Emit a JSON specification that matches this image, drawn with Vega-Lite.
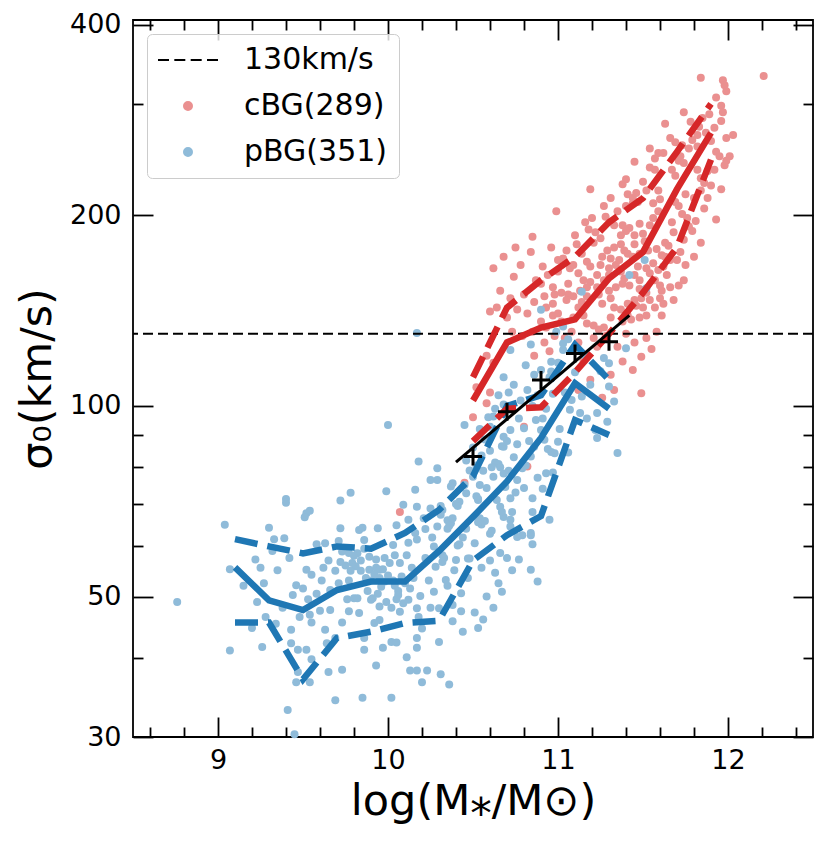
{
  "$schema": "https://vega.github.io/schema/vega-lite/v6.json",
  "width": 680,
  "height": 717,
  "autosize": {"type": "none"},
  "padding": {"left": 133, "top": 20, "right": 16, "bottom": 106},
  "background": "white",
  "config": {
    "view": {"stroke": "black", "strokeWidth": 1.8},
    "font": "DejaVu Sans",
    "axis": {
      "labelFont": "DejaVu Sans", "labelFontSize": 27, "labelColor": "black",
      "titleFont": "DejaVu Sans", "titleFontSize": 43, "titleFontWeight": "normal", "titleColor": "black",
      "tickColor": "black", "tickWidth": 1.8, "domain": false, "grid": false, "zindex": 1,
      "labelFlush": false, "labelOverlap": false
    },
    "legend": {
      "title": null, "orient": "top-left", "offset": 14, "padding": 11, "cornerRadius": 5,
      "strokeColor": "#cccccc", "fillColor": "rgba(255,255,255,0.8)",
      "labelFont": "DejaVu Sans", "labelFontSize": 30, "labelColor": "black",
      "labelOffset": 41, "symbolOffset": 15, "symbolSize": 64, "symbolStrokeWidth": 2, "rowPadding": 16
    }
  },
  "datasets": {
    "pts": [
      {"g":"c","x":12.21,"y":332},{"g":"c","x":11.84,"y":330},{"g":"c","x":11.97,"y":327},{"g":"c","x":11.98,"y":321},{"g":"c","x":11.99,"y":314},
      {"g":"c","x":11.93,"y":307},{"g":"c","x":11.96,"y":298},{"g":"c","x":11.97,"y":291},{"g":"c","x":11.74,"y":291},{"g":"c","x":11.96,"y":282},
      {"g":"c","x":11.63,"y":279},{"g":"c","x":11.83,"y":276},{"g":"c","x":11.82,"y":268},{"g":"c","x":11.79,"y":263},{"g":"c","x":11.82,"y":257},
      {"g":"c","x":11.69,"y":261},{"g":"c","x":11.73,"y":258},{"g":"c","x":11.77,"y":255},{"g":"c","x":11.93,"y":252},{"g":"c","x":11.95,"y":248},
      {"g":"c","x":12.01,"y":248},{"g":"c","x":11.99,"y":244},{"g":"c","x":11.59,"y":251},{"g":"c","x":11.62,"y":251},{"g":"c","x":11.57,"y":246},
      {"g":"c","x":11.72,"y":248},{"g":"c","x":11.45,"y":243},{"g":"c","x":11.54,"y":238},{"g":"c","x":11.57,"y":236},{"g":"c","x":11.71,"y":244},
      {"g":"c","x":11.74,"y":242},{"g":"c","x":11.67,"y":236},{"g":"c","x":11.69,"y":231},{"g":"c","x":11.82,"y":236},{"g":"c","x":11.84,"y":229},
      {"g":"c","x":11.88,"y":235},{"g":"c","x":11.86,"y":225},{"g":"c","x":11.75,"y":216},{"g":"c","x":11.80,"y":213},{"g":"c","x":11.84,"y":219},
      {"g":"c","x":11.59,"y":219},{"g":"c","x":11.60,"y":212},{"g":"c","x":11.38,"y":224},{"g":"c","x":11.40,"y":228},{"g":"c","x":11.41,"y":216},
      {"g":"c","x":11.44,"y":213},{"g":"c","x":11.46,"y":217},{"g":"c","x":11.52,"y":219},{"g":"c","x":11.19,"y":220},{"g":"c","x":11.31,"y":213},
      {"g":"c","x":11.40,"y":207},{"g":"c","x":11.44,"y":209},{"g":"c","x":11.56,"y":209},{"g":"c","x":11.59,"y":203},{"g":"c","x":11.69,"y":210},
      {"g":"c","x":11.71,"y":207},{"g":"c","x":11.73,"y":201},{"g":"c","x":11.76,"y":198},{"g":"c","x":11.77,"y":192},{"g":"c","x":11.90,"y":223},
      {"g":"c","x":10.99,"y":203},{"g":"c","x":11.20,"y":198},{"g":"c","x":11.28,"y":199},{"g":"c","x":11.33,"y":193},{"g":"c","x":11.38,"y":193},
      {"g":"c","x":11.42,"y":191},{"g":"c","x":11.48,"y":194},{"g":"c","x":11.50,"y":187},{"g":"c","x":11.56,"y":198},{"g":"c","x":11.54,"y":193},
      {"g":"c","x":11.67,"y":195},{"g":"c","x":11.68,"y":188},{"g":"c","x":11.22,"y":188},{"g":"c","x":11.21,"y":181},{"g":"c","x":11.25,"y":184},
      {"g":"c","x":11.37,"y":186},{"g":"c","x":11.40,"y":189},{"g":"c","x":11.45,"y":186},{"g":"c","x":11.45,"y":180},{"g":"c","x":11.37,"y":180},
      {"g":"c","x":11.39,"y":176},{"g":"c","x":11.63,"y":181},{"g":"c","x":11.65,"y":179},{"g":"c","x":11.11,"y":180},{"g":"c","x":11.33,"y":178},
      {"g":"c","x":11.31,"y":171},{"g":"c","x":11.34,"y":167},{"g":"c","x":11.41,"y":174},{"g":"c","x":11.44,"y":172},{"g":"c","x":11.48,"y":174},
      {"g":"c","x":11.58,"y":177},{"g":"c","x":11.61,"y":173},{"g":"c","x":11.63,"y":172},{"g":"c","x":11.66,"y":170},{"g":"c","x":11.17,"y":169},
      {"g":"c","x":11.19,"y":166},{"g":"c","x":11.25,"y":167},{"g":"c","x":11.09,"y":167},{"g":"c","x":11.07,"y":165},{"g":"c","x":11.00,"y":163},
      {"g":"c","x":10.91,"y":166},{"g":"c","x":10.94,"y":161},{"g":"c","x":10.90,"y":156},{"g":"c","x":11.12,"y":162},{"g":"c","x":11.15,"y":158},
      {"g":"c","x":11.19,"y":157},{"g":"c","x":11.23,"y":161},{"g":"c","x":11.27,"y":158},{"g":"c","x":11.30,"y":161},{"g":"c","x":11.37,"y":163},
      {"g":"c","x":11.39,"y":159},{"g":"c","x":11.45,"y":161},{"g":"c","x":11.48,"y":158},{"g":"c","x":11.52,"y":165},{"g":"c","x":11.54,"y":162},
      {"g":"c","x":11.57,"y":158},{"g":"c","x":11.64,"y":161},{"g":"c","x":11.60,"y":155},{"g":"c","x":11.61,"y":152},{"g":"c","x":11.74,"y":158},
      {"g":"c","x":11.75,"y":167},{"g":"c","x":10.97,"y":154},{"g":"c","x":10.98,"y":150},{"g":"c","x":11.06,"y":150},{"g":"c","x":11.09,"y":149},
      {"g":"c","x":11.13,"y":152},{"g":"c","x":11.17,"y":154},{"g":"c","x":11.23,"y":154},{"g":"c","x":11.30,"y":152},{"g":"c","x":11.34,"y":154},
      {"g":"c","x":11.38,"y":156},{"g":"c","x":11.42,"y":155},{"g":"c","x":11.48,"y":153},{"g":"c","x":11.49,"y":148},{"g":"c","x":11.52,"y":151},
      {"g":"c","x":11.60,"y":148},{"g":"c","x":11.66,"y":154},{"g":"c","x":10.92,"y":149},{"g":"c","x":10.97,"y":145},{"g":"c","x":11.02,"y":151},
      {"g":"c","x":11.05,"y":147},{"g":"c","x":11.14,"y":146},{"g":"c","x":11.17,"y":149},{"g":"c","x":11.24,"y":150},{"g":"c","x":11.26,"y":145},
      {"g":"c","x":11.31,"y":148},{"g":"c","x":11.33,"y":143},{"g":"c","x":11.37,"y":142},{"g":"c","x":11.41,"y":145},{"g":"c","x":11.46,"y":144},
      {"g":"c","x":11.50,"y":143},{"g":"c","x":11.54,"y":147},{"g":"c","x":10.97,"y":139},{"g":"c","x":11.00,"y":140},{"g":"c","x":11.02,"y":136},
      {"g":"c","x":11.09,"y":138},{"g":"c","x":11.15,"y":139},{"g":"c","x":11.17,"y":135},{"g":"c","x":11.21,"y":134},{"g":"c","x":11.24,"y":132},
      {"g":"c","x":11.27,"y":133},{"g":"c","x":11.31,"y":138},{"g":"c","x":11.38,"y":136},{"g":"c","x":11.43,"y":137},{"g":"c","x":11.48,"y":138},
      {"g":"c","x":11.52,"y":139},{"g":"c","x":11.61,"y":139},{"g":"c","x":10.90,"y":136},{"g":"c","x":10.93,"y":133},
      {"g":"c","x":10.62,"y":165},{"g":"c","x":10.68,"y":172},{"g":"c","x":10.74,"y":160},{"g":"c","x":10.78,"y":167},{"g":"c","x":10.84,"y":175},
      {"g":"c","x":10.87,"y":158},{"g":"c","x":10.66,"y":152},{"g":"c","x":10.72,"y":148},{"g":"c","x":10.80,"y":150},{"g":"c","x":10.86,"y":146},
      {"g":"c","x":10.60,"y":141},{"g":"c","x":10.64,"y":143},{"g":"c","x":10.70,"y":138},{"g":"c","x":10.76,"y":142},{"g":"c","x":10.82,"y":140},
      {"g":"c","x":10.85,"y":131},{"g":"c","x":10.79,"y":129},{"g":"c","x":10.73,"y":131},{"g":"c","x":10.58,"y":120},{"g":"c","x":10.62,"y":117},
      {"g":"c","x":10.92,"y":126},{"g":"c","x":10.95,"y":122},{"g":"c","x":10.86,"y":120},{"g":"c","x":10.98,"y":129},{"g":"c","x":11.19,"y":110},
      {"g":"c","x":11.38,"y":117.5},{"g":"c","x":11.31,"y":112},{"g":"c","x":11.21,"y":128},{"g":"c","x":11.49,"y":119.6},{"g":"c","x":11.49,"y":104.7},
      {"g":"c","x":11.04,"y":128},{"g":"c","x":11.08,"y":131},{"g":"c","x":11.12,"y":126},{"g":"c","x":11.15,"y":118},{"g":"c","x":11.23,"y":124},
      {"g":"c","x":11.28,"y":129},{"g":"c","x":11.35,"y":124},{"g":"c","x":11.40,"y":130},{"g":"c","x":11.45,"y":126},{"g":"c","x":11.52,"y":128},
      {"g":"c","x":11.55,"y":123},{"g":"c","x":11.58,"y":131},{"g":"c","x":11.44,"y":114},{"g":"c","x":11.33,"y":106},{"g":"c","x":11.26,"y":103},
      {"g":"c","x":11.12,"y":106},{"g":"c","x":10.80,"y":92.7},{"g":"c","x":10.82,"y":80.2},{"g":"c","x":10.58,"y":101},{"g":"c","x":10.07,"y":68},
      {"g":"c","x":10.45,"y":75.6},{"g":"c","x":10.93,"y":143},{"g":"c","x":10.52,"y":107},{"g":"c","x":10.60,"y":105},{"g":"c","x":10.50,"y":96},
      {"g":"c","x":11.26,"y":172},{"g":"c","x":11.29,"y":176},{"g":"c","x":11.36,"y":170},{"g":"c","x":11.47,"y":166},{"g":"c","x":11.51,"y":182},
      {"g":"c","x":11.53,"y":176},{"g":"c","x":11.56,"y":168},{"g":"c","x":11.59,"y":164},{"g":"c","x":11.62,"y":166},{"g":"c","x":11.70,"y":170},
      {"g":"c","x":11.72,"y":175},{"g":"c","x":11.74,"y":183},{"g":"c","x":11.79,"y":189},{"g":"c","x":11.81,"y":196},{"g":"c","x":11.86,"y":205},
      {"g":"c","x":11.88,"y":213},{"g":"c","x":11.92,"y":236},{"g":"c","x":11.90,"y":262},{"g":"c","x":11.87,"y":270},{"g":"c","x":11.85,"y":285},
      {"g":"c","x":11.89,"y":289},{"g":"c","x":11.78,"y":281},{"g":"c","x":11.66,"y":265},{"g":"c","x":11.54,"y":255},{"g":"c","x":11.50,"y":226},
      {"g":"c","x":11.47,"y":210},{"g":"c","x":11.35,"y":203},{"g":"c","x":11.27,"y":207},{"g":"c","x":11.16,"y":195},{"g":"c","x":11.10,"y":186},
      {"g":"c","x":11.05,"y":176},{"g":"c","x":11.03,"y":171},{"g":"c","x":11.14,"y":174},{"g":"c","x":11.30,"y":165},{"g":"c","x":11.45,"y":147},
      {"g":"c","x":11.41,"y":139},{"g":"c","x":11.57,"y":143},{"g":"c","x":11.62,"y":145},{"g":"c","x":11.68,"y":147},{"g":"c","x":11.71,"y":155},
      {"g":"c","x":11.80,"y":172},{"g":"c","x":11.84,"y":181},{"g":"c","x":11.93,"y":197},{"g":"c","x":11.96,"y":220},{"g":"c","x":11.98,"y":240},
      {"g":"c","x":12.03,"y":268},{"g":"c","x":11.92,"y":275},{"g":"c","x":11.99,"y":265},{"g":"c","x":11.12,"y":143},{"g":"c","x":11.06,"y":156},
      {"g":"c","x":11.00,"y":170},{"g":"c","x":10.96,"y":178},{"g":"c","x":10.85,"y":185},{"g":"c","x":10.75,"y":178},{"g":"c","x":11.18,"y":190},

      {"g":"p","x":8.76,"y":49},{"g":"p","x":9.04,"y":64.9},{"g":"p","x":9.07,"y":55.2},{"g":"p","x":9.07,"y":41.1},{"g":"p","x":9.22,"y":57.2},
      {"g":"p","x":9.25,"y":55.5},{"g":"p","x":9.23,"y":49},{"g":"p","x":9.28,"y":46.4},{"g":"p","x":9.20,"y":44.6},{"g":"p","x":9.26,"y":41.6},
      {"g":"p","x":9.30,"y":64.2},{"g":"p","x":9.33,"y":61.6},{"g":"p","x":9.32,"y":59},{"g":"p","x":9.39,"y":61.8},{"g":"p","x":9.34,"y":45.3},
      {"g":"p","x":9.40,"y":71.3},{"g":"p","x":9.40,"y":70.3},{"g":"p","x":9.43,"y":44.3},{"g":"p","x":9.43,"y":42.2},{"g":"p","x":9.46,"y":52.1},
      {"g":"p","x":9.44,"y":50.3},{"g":"p","x":9.48,"y":46.4},{"g":"p","x":9.47,"y":41.2},{"g":"p","x":9.46,"y":36.6},{"g":"p","x":9.54,"y":36.6},
      {"g":"p","x":9.47,"y":38.0},{"g":"p","x":9.41,"y":33.1},{"g":"p","x":9.45,"y":30.3},{"g":"p","x":9.52,"y":67.7},{"g":"p","x":9.51,"y":66.7},
      {"g":"p","x":9.54,"y":68.3},{"g":"p","x":9.52,"y":55.1},{"g":"p","x":9.55,"y":54.1},{"g":"p","x":9.50,"y":51.5},{"g":"p","x":9.53,"y":49.5},
      {"g":"p","x":9.54,"y":46.8},{"g":"p","x":9.55,"y":45.5},{"g":"p","x":9.52,"y":41.2},{"g":"p","x":9.55,"y":39.8},{"g":"p","x":9.58,"y":60.5},
      {"g":"p","x":9.63,"y":60.7},{"g":"p","x":9.65,"y":57.0},{"g":"p","x":9.66,"y":51.2},{"g":"p","x":9.66,"y":47.6},{"g":"p","x":9.63,"y":44.3},
      {"g":"p","x":9.64,"y":42.2},{"g":"p","x":9.69,"y":43.0},{"g":"p","x":9.65,"y":38.0},{"g":"p","x":9.69,"y":34.3},{"g":"p","x":9.72,"y":70.9},
      {"g":"p","x":9.78,"y":72.9},{"g":"p","x":9.72,"y":64.1},{"g":"p","x":9.71,"y":61.2},{"g":"p","x":9.73,"y":58.9},{"g":"p","x":9.69,"y":54.9},
      {"g":"p","x":9.77,"y":58.6},{"g":"p","x":9.79,"y":56.5},{"g":"p","x":9.81,"y":55.8},{"g":"p","x":9.78,"y":54.9},{"g":"p","x":9.84,"y":54.9},
      {"g":"p","x":9.76,"y":49.5},{"g":"p","x":9.80,"y":49.7},{"g":"p","x":9.82,"y":49.7},{"g":"p","x":9.77,"y":47.4},{"g":"p","x":9.83,"y":47.1},
      {"g":"p","x":9.73,"y":45.5},{"g":"p","x":9.86,"y":43.0},{"g":"p","x":9.86,"y":41.2},{"g":"p","x":9.73,"y":38.3},{"g":"p","x":9.83,"y":63.7},
      {"g":"p","x":9.85,"y":64.2},{"g":"p","x":9.86,"y":61.4},{"g":"p","x":9.86,"y":59.5},{"g":"p","x":9.82,"y":58.5},{"g":"p","x":9.89,"y":57.8},
      {"g":"p","x":9.89,"y":55.1},{"g":"p","x":9.94,"y":64.1},{"g":"p","x":9.93,"y":57.2},{"g":"p","x":9.93,"y":55.5},{"g":"p","x":9.95,"y":55.1},
      {"g":"p","x":9.97,"y":55.2},{"g":"p","x":9.90,"y":53.0},{"g":"p","x":9.95,"y":53.5},{"g":"p","x":9.98,"y":52.8},{"g":"p","x":10.04,"y":52.0},
      {"g":"p","x":10.06,"y":51.0},{"g":"p","x":9.99,"y":49.0},{"g":"p","x":10.02,"y":48.0},{"g":"p","x":9.99,"y":73.3},{"g":"p","x":9.91,"y":49.7},
      {"g":"p","x":9.95,"y":48.2},{"g":"p","x":9.90,"y":49.4},{"g":"p","x":9.92,"y":45.4},{"g":"p","x":9.95,"y":45.9},{"g":"p","x":9.97,"y":41.5},
      {"g":"p","x":9.93,"y":38.9},{"g":"p","x":9.85,"y":34.6},{"g":"p","x":10.02,"y":34.6},{"g":"p","x":10.05,"y":64.8},{"g":"p","x":10.03,"y":60.3},
      {"g":"p","x":10.04,"y":58.1},{"g":"p","x":10.07,"y":56.5},{"g":"p","x":10.11,"y":58.1},{"g":"p","x":10.06,"y":50.3},{"g":"p","x":10.12,"y":49.4},
      {"g":"p","x":10.02,"y":42.4},{"g":"p","x":10.05,"y":42.3},{"g":"p","x":10.07,"y":47.3},{"g":"p","x":10.11,"y":40.1},{"g":"p","x":10.13,"y":38.2},
      {"g":"p","x":10.17,"y":38.2},{"g":"p","x":10.20,"y":36.6},{"g":"p","x":10.23,"y":38.2},{"g":"p","x":10.31,"y":37.7},{"g":"p","x":10.36,"y":36.3},
      {"g":"p","x":10.09,"y":69.8},{"g":"p","x":10.16,"y":73.7},{"g":"p","x":10.17,"y":69.3},{"g":"p","x":10.12,"y":66.1},{"g":"p","x":10.16,"y":63.0},
      {"g":"p","x":10.17,"y":61.5},{"g":"p","x":10.12,"y":60.8},{"g":"p","x":10.14,"y":55.5},{"g":"p","x":10.19,"y":50.1},{"g":"p","x":10.17,"y":47.9},
      {"g":"p","x":10.18,"y":46.4},{"g":"p","x":10.17,"y":43.0},{"g":"p","x":10.17,"y":41.5},{"g":"p","x":10.25,"y":76.4},{"g":"p","x":10.25,"y":68.9},
      {"g":"p","x":10.22,"y":63.9},{"g":"p","x":10.27,"y":60.0},{"g":"p","x":10.32,"y":58.1},{"g":"p","x":10.28,"y":55.7},{"g":"p","x":10.27,"y":50.9},
      {"g":"p","x":10.30,"y":47.9},{"g":"p","x":10.30,"y":42.4},{"g":"p","x":10.38,"y":48.5},{"g":"p","x":10.38,"y":45.7},{"g":"p","x":10.43,"y":50.6},
      {"g":"p","x":10.47,"y":57.4},{"g":"p","x":10.40,"y":57.1},{"g":"p","x":10.37,"y":65.3},{"g":"p","x":10.35,"y":66.0},{"g":"p","x":10.38,"y":66.5},
      {"g":"p","x":10.32,"y":68.5},{"g":"p","x":10.31,"y":69.5},{"g":"p","x":10.37,"y":74.6},{"g":"p","x":10.45,"y":75.0},{"g":"p","x":10.00,"y":93.3},
      {"g":"p","x":10.18,"y":81.7},{"g":"p","x":10.29,"y":79.7},{"g":"p","x":10.29,"y":76.4},{"g":"p","x":10.17,"y":130.4},{"g":"p","x":10.45,"y":93.3},
      {"g":"p","x":10.40,"y":70.0},{"g":"p","x":10.42,"y":70.6},{"g":"p","x":10.46,"y":72.8},{"g":"p","x":10.48,"y":79.1},{"g":"p","x":10.54,"y":75.0},
      {"g":"p","x":10.53,"y":71.0},{"g":"p","x":10.58,"y":74.2},{"g":"p","x":10.63,"y":81.4},{"g":"p","x":10.62,"y":77.3},{"g":"p","x":10.68,"y":78.2},
      {"g":"p","x":10.64,"y":71.0},{"g":"p","x":10.72,"y":71.5},{"g":"p","x":10.76,"y":76.4},{"g":"p","x":10.80,"y":74.2},{"g":"p","x":10.68,"y":66.8},
      {"g":"p","x":10.73,"y":68.0},{"g":"p","x":10.79,"y":79.7},{"g":"p","x":10.84,"y":83.2},{"g":"p","x":10.86,"y":86.2},{"g":"p","x":10.85,"y":71.5},
      {"g":"p","x":10.85,"y":68.0},{"g":"p","x":10.84,"y":63.0},{"g":"p","x":10.95,"y":66.1},{"g":"p","x":10.72,"y":91.6},{"g":"p","x":10.68,"y":89.4},
      {"g":"p","x":10.68,"y":86.2},{"g":"p","x":10.60,"y":92.7},{"g":"p","x":10.62,"y":96.2},{"g":"p","x":10.68,"y":111.0},{"g":"p","x":10.72,"y":122.6},
      {"g":"p","x":10.80,"y":92.2},{"g":"p","x":10.87,"y":95.0},{"g":"p","x":10.91,"y":95.5},{"g":"p","x":10.90,"y":91.6},{"g":"p","x":10.92,"y":88.4},
      {"g":"p","x":10.98,"y":84.2},{"g":"p","x":11.00,"y":87.8},{"g":"p","x":10.96,"y":113.3},{"g":"p","x":10.96,"y":117.4},{"g":"p","x":11.00,"y":117.0},
      {"g":"p","x":11.03,"y":122.6},{"g":"p","x":11.08,"y":102.2},{"g":"p","x":11.07,"y":98.6},{"g":"p","x":11.13,"y":97.5},{"g":"p","x":11.23,"y":97.5},
      {"g":"p","x":11.22,"y":91.6},{"g":"p","x":11.23,"y":89.0},{"g":"p","x":11.29,"y":94.4},{"g":"p","x":11.30,"y":116.8},{"g":"p","x":11.30,"y":107.3},
      {"g":"p","x":11.33,"y":101.6},{"g":"p","x":11.35,"y":84.3},{"g":"p","x":11.40,"y":123.4},{"g":"p","x":11.03,"y":125.5},{"g":"p","x":10.90,"y":141.9},
      {"g":"p","x":11.06,"y":84.4},{"g":"p","x":10.96,"y":84.6},{"g":"p","x":10.94,"y":85.5},{"g":"p","x":10.93,"y":78.3},{"g":"p","x":10.72,"y":66.1},
      {"g":"p","x":10.72,"y":64.5},{"g":"p","x":10.84,"y":62.5},{"g":"p","x":10.79,"y":62.5},{"g":"p","x":10.85,"y":60.5},{"g":"p","x":10.76,"y":62.1},
      {"g":"p","x":10.77,"y":57.2},{"g":"p","x":10.84,"y":55.1},{"g":"p","x":10.88,"y":52.8},{"g":"p","x":10.66,"y":58.6},{"g":"p","x":10.65,"y":52.5},
      {"g":"p","x":10.67,"y":50.9},{"g":"p","x":10.55,"y":55.5},{"g":"p","x":10.48,"y":57.4},{"g":"p","x":10.51,"y":60.7},{"g":"p","x":10.60,"y":62.8},
      {"g":"p","x":10.61,"y":63.5},{"g":"p","x":10.57,"y":65.8},{"g":"p","x":10.55,"y":65.0},{"g":"p","x":10.66,"y":69.3},{"g":"p","x":10.67,"y":68.0},
      {"g":"p","x":10.65,"y":81.0},{"g":"p","x":10.66,"y":80.0},{"g":"p","x":10.50,"y":77.3},{"g":"p","x":10.53,"y":71.3},{"g":"p","x":10.52,"y":72.0},
      {"g":"p","x":10.54,"y":66.5},{"g":"p","x":10.53,"y":65.5},{"g":"p","x":10.41,"y":69.5},{"g":"p","x":10.36,"y":64.7},{"g":"p","x":10.35,"y":64.0},
      {"g":"p","x":10.41,"y":60.2},{"g":"p","x":10.42,"y":60.5},{"g":"p","x":10.32,"y":56.7},{"g":"p","x":10.33,"y":57.5},{"g":"p","x":10.34,"y":53.1},
      {"g":"p","x":10.38,"y":75.5},{"g":"p","x":10.31,"y":67.3},{"g":"p","x":10.43,"y":47.4},{"g":"p","x":10.51,"y":47.2},{"g":"p","x":10.53,"y":44.6},
      {"g":"p","x":10.67,"y":86.4},{"g":"p","x":10.70,"y":88.0},{"g":"p","x":10.76,"y":87.0},{"g":"p","x":10.83,"y":88.0},
      {"g":"p","x":9.87,"y":53.5},{"g":"p","x":9.92,"y":54.2},{"g":"p","x":9.96,"y":51.8},{"g":"p","x":10.00,"y":54.0},{"g":"p","x":10.03,"y":53.0},
      {"g":"p","x":10.08,"y":53.8},{"g":"p","x":10.10,"y":52.5},{"g":"p","x":10.01,"y":56.5},{"g":"p","x":9.98,"y":57.5},{"g":"p","x":9.88,"y":51.0},
      {"g":"p","x":9.94,"y":50.5},{"g":"p","x":10.05,"y":49.5},{"g":"p","x":10.09,"y":48.8},{"g":"p","x":10.13,"y":51.5},{"g":"p","x":10.15,"y":53.5},
      {"g":"p","x":9.75,"y":56.0},{"g":"p","x":9.80,"y":58.0},{"g":"p","x":9.72,"y":56.7},{"g":"p","x":9.84,"y":57.0},{"g":"p","x":9.77,"y":53.0},
      {"g":"p","x":9.71,"y":52.5},{"g":"p","x":9.61,"y":53.0},{"g":"p","x":9.58,"y":50.5},{"g":"p","x":9.60,"y":47.5},{"g":"p","x":9.62,"y":55.5},
      {"g":"p","x":10.22,"y":57.5},{"g":"p","x":10.24,"y":53.0},{"g":"p","x":10.26,"y":62.0},{"g":"p","x":10.21,"y":66.5},{"g":"p","x":10.29,"y":64.5},
      {"g":"p","x":10.44,"y":62.0},{"g":"p","x":10.46,"y":64.0},{"g":"p","x":10.25,"y":48.0},{"g":"p","x":10.20,"y":44.5},{"g":"p","x":10.35,"y":52.0},
      {"g":"p","x":10.39,"y":55.0},{"g":"p","x":10.46,"y":82.0},{"g":"p","x":10.50,"y":86.0},{"g":"p","x":10.52,"y":80.5},{"g":"p","x":10.55,"y":83.5},
      {"g":"p","x":10.57,"y":88.5},{"g":"p","x":10.60,"y":85.0},{"g":"p","x":10.61,"y":80.0},{"g":"p","x":10.56,"y":79.0},{"g":"p","x":10.59,"y":96.0},
      {"g":"p","x":10.54,"y":92.0},{"g":"p","x":10.63,"y":99.0},{"g":"p","x":10.65,"y":104.0},{"g":"p","x":10.68,"y":100.5},{"g":"p","x":10.71,"y":105.0},
      {"g":"p","x":10.74,"y":108.0},{"g":"p","x":10.78,"y":102.0},{"g":"p","x":10.82,"y":106.0},{"g":"p","x":10.85,"y":100.0},{"g":"p","x":10.88,"y":104.0},
      {"g":"p","x":10.93,"y":99.0},{"g":"p","x":10.97,"y":104.5},{"g":"p","x":10.95,"y":111.0},{"g":"p","x":10.90,"y":114.0},{"g":"p","x":10.86,"y":112.0},
      {"g":"p","x":10.81,"y":116.0},{"g":"p","x":10.77,"y":95.5},{"g":"p","x":10.74,"y":83.0},{"g":"p","x":10.71,"y":79.0},{"g":"p","x":10.69,"y":74.5},
      {"g":"p","x":10.75,"y":73.0},{"g":"p","x":10.81,"y":80.5},{"g":"p","x":10.88,"y":77.0},{"g":"p","x":10.91,"y":74.0},{"g":"p","x":10.97,"y":78.5},
      {"g":"p","x":11.01,"y":92.0},{"g":"p","x":11.04,"y":105.0},{"g":"p","x":11.10,"y":113.0},{"g":"p","x":11.14,"y":103.5},{"g":"p","x":11.17,"y":95.5},
      {"g":"p","x":11.19,"y":108.0},{"g":"p","x":11.25,"y":113.5},{"g":"p","x":11.27,"y":119.0},{"g":"p","x":11.16,"y":120.0},{"g":"p","x":11.06,"y":127.5},
      {"g":"p","x":10.99,"y":131.0},{"g":"p","x":10.84,"y":125.0},{"g":"p","x":10.60,"y":57.0},{"g":"p","x":10.63,"y":54.5},{"g":"p","x":10.70,"y":57.5},
      {"g":"p","x":10.73,"y":55.0},{"g":"p","x":10.58,"y":50.0},{"g":"p","x":10.47,"y":53.5},{"g":"p","x":10.44,"y":44.0},{"g":"p","x":10.56,"y":46.0},
      {"g":"p","x":10.62,"y":48.0},{"g":"p","x":9.15,"y":52.0},{"g":"p","x":9.27,"y":52.5},{"g":"p","x":9.35,"y":55.0},{"g":"p","x":9.38,"y":48.0},
      {"g":"p","x":9.42,"y":57.5},{"g":"p","x":11.51,"y":170},{"g":"p","x":11.42,"y":161},{"g":"p","x":11.14,"y":151.5},{"g":"p","x":11.52,"y":153.4},
      {"g":"p","x":11.03,"y":133.5}
    ],
    "bmed": [{"x":9.1,"y":55.6},{"x":9.3,"y":49.3},{"x":9.5,"y":47.6},{"x":9.7,"y":51.2},{"x":9.9,"y":52.8},{"x":10.1,"y":52.8},{"x":10.3,"y":59},{"x":10.5,"y":66.8},{"x":10.7,"y":76},{"x":10.9,"y":89},{"x":11.1,"y":108.6},{"x":11.3,"y":99}],
    "bup": [{"x":9.1,"y":61.6},{"x":9.3,"y":60},{"x":9.5,"y":58.5},{"x":9.7,"y":60},{"x":9.9,"y":59.5},{"x":10.1,"y":63},{"x":10.3,"y":68.5},{"x":10.5,"y":77.5},{"x":10.7,"y":100},{"x":10.9,"y":104},{"x":11.1,"y":125},{"x":11.3,"y":110}],
    "blo": [{"x":9.1,"y":45.5},{"x":9.3,"y":45.5},{"x":9.5,"y":37},{"x":9.7,"y":43},{"x":9.9,"y":44},{"x":10.1,"y":45.4},{"x":10.3,"y":45.8},{"x":10.5,"y":57},{"x":10.7,"y":62.5},{"x":10.9,"y":67},{"x":11.1,"y":95},{"x":11.3,"y":90}],
    "rmed": [{"x":10.5,"y":102},{"x":10.7,"y":126},{"x":10.9,"y":133},{"x":11.1,"y":137},{"x":11.3,"y":159},{"x":11.5,"y":175},{"x":11.7,"y":220},{"x":11.9,"y":270}],
    "rup": [{"x":10.5,"y":111},{"x":10.7,"y":143},{"x":10.9,"y":158},{"x":11.1,"y":172},{"x":11.3,"y":195},{"x":11.5,"y":213},{"x":11.7,"y":252},{"x":11.9,"y":300}],
    "rlo": [{"x":10.5,"y":88},{"x":10.7,"y":99},{"x":10.9,"y":99.5},{"x":11.1,"y":113},{"x":11.3,"y":130},{"x":11.5,"y":151},{"x":11.7,"y":178},{"x":11.9,"y":245}],
    "fit": [{"x":10.4,"y":81.5},{"x":11.42,"y":139}],
    "cross": [{"x":10.5,"y":83.2},{"x":10.7,"y":97.9},{"x":10.9,"y":109.9},{"x":11.1,"y":121},{"x":11.3,"y":126.3}]
  },
  "resolve": {"axis": {"x": "independent", "y": "independent"}},
  "layer": [
    {
      "data": {"name": "pts"},
      "mark": {"type": "point", "filled": true, "size": 64, "opacity": 1, "strokeWidth": 0},
      "encoding": {
        "x": {"field": "x", "type": "quantitative", "scale": {"domain": [8.5, 12.5], "nice": false, "zero": false},
              "axis": {"orient": "bottom", "values": [9, 10, 11, 12], "tickSize": -20, "labelPadding": 30, "title": "log(M⁎/M⊙)", "titlePadding": 7}},
        "y": {"field": "y", "type": "quantitative", "scale": {"type": "log", "domain": [30, 407], "nice": false},
              "axis": {"orient": "left", "values": [30, 50, 100, 200, 400], "tickSize": -20, "labelPadding": 32, "labelExpr": "format(datum.value, 'd')", "title": "σ₀(km/s)", "titlePadding": 10}},
        "color": {
          "field": "g", "type": "nominal",
          "scale": {"domain": ["h", "c", "p"], "range": ["black", "#ea9090", "#8fbbd9"]},
          "legend": {"labelExpr": "datum.value === 'h' ? '130km/s' : datum.value === 'c' ? 'cBG(289)' : 'pBG(351)'"}
        },
        "stroke": {
          "field": "g", "type": "nominal",
          "scale": {"domain": ["h", "c", "p"], "range": ["black", "#ea9090", "#8fbbd9"]},
          "legend": {"labelExpr": "datum.value === 'h' ? '130km/s' : datum.value === 'c' ? 'cBG(289)' : 'pBG(351)'"}
        },
        "shape": {
          "field": "g", "type": "nominal",
          "scale": {"domain": ["h", "c", "p"], "range": ["M-7.5,0H-4.75M-3.42,0H-0.67M0.67,0H3.42M4.75,0H7.5", "circle", "circle"]},
          "legend": {"labelExpr": "datum.value === 'h' ? '130km/s' : datum.value === 'c' ? 'cBG(289)' : 'pBG(351)'"}
        }
      }
    },
    {
      "data": {"values": [{"y": 130}]},
      "mark": {"type": "rule", "color": "black", "strokeWidth": 2, "strokeDash": [10, 5]},
      "encoding": {
        "y": {"field": "y", "type": "quantitative", "scale": {"type": "log", "domain": [30, 407], "nice": false}, "axis": null}
      }
    },
    {
      "data": {"name": "bmed"},
      "mark": {"type": "line", "color": "#1f77b4", "strokeWidth": 6.5},
      "encoding": {
        "x": {"field": "x", "type": "quantitative", "scale": {"domain": [8.5, 12.5], "nice": false, "zero": false},
              "axis": {"orient": "bottom", "values": [8.6, 8.8, 9.2, 9.4, 9.6, 9.8, 10.2, 10.4, 10.6, 10.8, 11.2, 11.4, 11.6, 11.8, 12.2, 12.4], "tickSize": -10, "labels": false, "title": null}},
        "y": {"field": "y", "type": "quantitative", "scale": {"type": "log", "domain": [30, 407], "nice": false},
              "axis": {"orient": "left", "values": [40, 60, 70, 80, 90, 300], "tickSize": -10, "labels": false, "title": null}}
      }
    },
    {
      "data": {"name": "bup"},
      "mark": {"type": "line", "color": "#1f77b4", "strokeWidth": 6.5, "strokeDash": [23, 10]},
      "encoding": {
        "x": {"field": "x", "type": "quantitative", "scale": {"domain": [8.5, 12.5], "nice": false, "zero": false},
              "axis": {"orient": "top", "values": [9, 10, 11, 12], "tickSize": -20, "labels": false, "title": null}},
        "y": {"field": "y", "type": "quantitative", "scale": {"type": "log", "domain": [30, 407], "nice": false},
              "axis": {"orient": "right", "values": [30, 50, 100, 200, 400], "tickSize": -20, "labels": false, "title": null}}
      }
    },
    {
      "data": {"name": "blo"},
      "mark": {"type": "line", "color": "#1f77b4", "strokeWidth": 6.5, "strokeDash": [23, 10]},
      "encoding": {
        "x": {"field": "x", "type": "quantitative", "scale": {"domain": [8.5, 12.5], "nice": false, "zero": false},
              "axis": {"orient": "top", "values": [8.6, 8.8, 9.2, 9.4, 9.6, 9.8, 10.2, 10.4, 10.6, 10.8, 11.2, 11.4, 11.6, 11.8, 12.2, 12.4], "tickSize": -10, "labels": false, "title": null}},
        "y": {"field": "y", "type": "quantitative", "scale": {"type": "log", "domain": [30, 407], "nice": false},
              "axis": {"orient": "right", "values": [40, 60, 70, 80, 90, 300], "tickSize": -10, "labels": false, "title": null}}
      }
    },
    {
      "data": {"name": "rmed"},
      "mark": {"type": "line", "color": "#d62728", "strokeWidth": 6.5},
      "encoding": {
        "x": {"field": "x", "type": "quantitative", "scale": {"domain": [8.5, 12.5], "nice": false, "zero": false}, "axis": null},
        "y": {"field": "y", "type": "quantitative", "scale": {"type": "log", "domain": [30, 407], "nice": false}, "axis": null}
      }
    },
    {
      "data": {"name": "rup"},
      "mark": {"type": "line", "color": "#d62728", "strokeWidth": 6.5, "strokeDash": [23, 10]},
      "encoding": {
        "x": {"field": "x", "type": "quantitative", "scale": {"domain": [8.5, 12.5], "nice": false, "zero": false}, "axis": null},
        "y": {"field": "y", "type": "quantitative", "scale": {"type": "log", "domain": [30, 407], "nice": false}, "axis": null}
      }
    },
    {
      "data": {"name": "rlo"},
      "mark": {"type": "line", "color": "#d62728", "strokeWidth": 6.5, "strokeDash": [23, 10]},
      "encoding": {
        "x": {"field": "x", "type": "quantitative", "scale": {"domain": [8.5, 12.5], "nice": false, "zero": false}, "axis": null},
        "y": {"field": "y", "type": "quantitative", "scale": {"type": "log", "domain": [30, 407], "nice": false}, "axis": null}
      }
    },
    {
      "data": {"name": "fit"},
      "mark": {"type": "line", "color": "black", "strokeWidth": 3},
      "encoding": {
        "x": {"field": "x", "type": "quantitative", "scale": {"domain": [8.5, 12.5], "nice": false, "zero": false}, "axis": null},
        "y": {"field": "y", "type": "quantitative", "scale": {"type": "log", "domain": [30, 407], "nice": false}, "axis": null}
      }
    },
    {
      "data": {"name": "cross"},
      "mark": {"type": "point", "shape": "M-1,0H1M0,-1V1", "size": 324, "filled": false, "color": "black", "strokeWidth": 3, "opacity": 1},
      "encoding": {
        "x": {"field": "x", "type": "quantitative", "scale": {"domain": [8.5, 12.5], "nice": false, "zero": false}, "axis": null},
        "y": {"field": "y", "type": "quantitative", "scale": {"type": "log", "domain": [30, 407], "nice": false}, "axis": null}
      }
    }
  ]
}
